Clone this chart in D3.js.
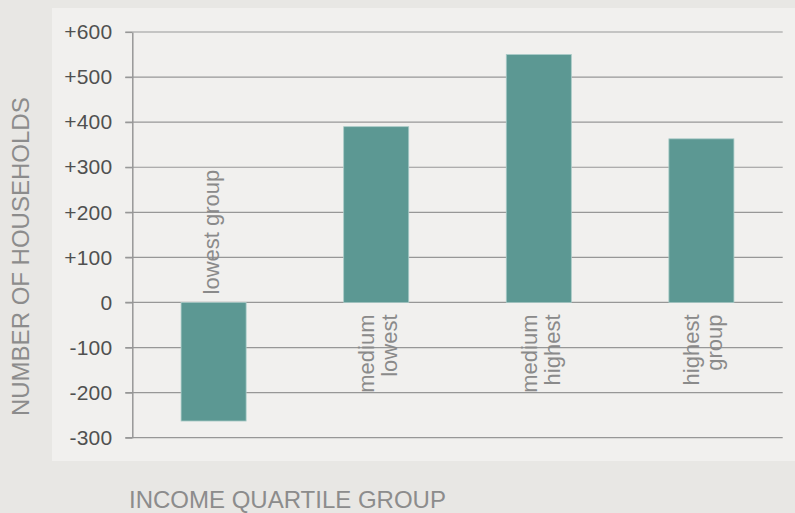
<!DOCTYPE html>
<html>
<head>
<meta charset="utf-8">
<script src="https://cdn.jsdelivr.net/npm/d3@7"></script>
<style>
  html, body { margin: 0; padding: 0; background: #e8e7e4; }
  svg { display: block; }
  text { font-family: "Liberation Sans", Arial, Helvetica, sans-serif; }
</style>
</head>
<body>
<svg id="chart" width="795" height="513"></svg>
<script>
const categories = ["lowest group", "medium lowest", "medium highest", "highest group"];
const categoryLines = [["lowest group"], ["medium", "lowest"], ["medium", "highest"], ["highest", "group"]];
const values = [-263, 390, 550, 363];
const tickValues = [-300, -200, -100, 0, 100, 200, 300, 400, 500, 600];
const yTitle = "NUMBER OF HOUSEHOLDS";
const xTitle = "INCOME QUARTILE GROUP";

const W = 795, H = 513;
const svg = d3.select("#chart");

svg.append("rect").attr("x", 0).attr("y", 0).attr("width", W).attr("height", H).attr("fill", "#e8e7e4");
svg.append("rect").attr("x", 52).attr("y", 8).attr("width", W - 52).attr("height", 453).attr("fill", "#f1f0ee");

const x = d3.scaleBand().domain(categories).range([132.3, 782.7]).paddingInner(0.6).paddingOuter(0.3);
const y = d3.scaleLinear().domain([-300, 600]).range([437.7, 32]);

const gridColor = "#979797";

// gridlines
svg.append("g").selectAll("line").data(tickValues).join("line")
  .attr("x1", x.range()[0] - 7).attr("x2", x.range()[1])
  .attr("y1", d => y(d)).attr("y2", d => y(d))
  .attr("stroke", gridColor).attr("stroke-width", 1.2);

// bars
svg.append("g").selectAll("rect").data(values).join("rect")
  .attr("x", (d, i) => x(categories[i]))
  .attr("width", x.bandwidth())
  .attr("y", d => y(Math.max(0, d)))
  .attr("height", d => Math.abs(y(d) - y(0)))
  .attr("fill", "#5c9893")
  .attr("stroke", "#a9cbc7").attr("stroke-width", 0.8);

// y axis
const yAxis = d3.axisLeft(y).tickValues(tickValues)
  .tickFormat(d => d > 0 ? "+" + d : String(d).replace("\u2212", "-"))
  .tickSizeInner(7).tickSizeOuter(0).tickPadding(13);
const gy = svg.append("g").attr("transform", `translate(${x.range()[0]},0)`).call(yAxis);
gy.select(".domain").attr("stroke", gridColor).attr("stroke-width", 1.5);
gy.selectAll(".tick line").attr("stroke", gridColor).attr("stroke-width", 1.2);
gy.selectAll(".tick text").attr("fill", "#505050").attr("font-size", 21)
  .attr("font-family", "Liberation Sans, Arial, sans-serif").attr("letter-spacing", "0.2px");

// bar labels (rotated)
const labelColor = "#8a8a8a";
const lg = svg.append("g");
categories.forEach((c, i) => {
  const cx = x(c) + x.bandwidth() / 2;
  const v = values[i];
  const lines = categoryLines[i];
  const t = lg.append("text")
    .attr("font-size", 22)
    .attr("fill", labelColor);
  if (v < 0) {
    // label above zero
    t.attr("text-anchor", "start")
      .attr("transform", `translate(${cx + 5},${y(0) - 8}) rotate(-90)`)
      .text(lines[0]);
  } else {
    t.attr("text-anchor", "end")
      .attr("transform", `translate(${cx},${y(0) + 12}) rotate(-90)`);
    lines.forEach((ln, k) => {
      t.append("tspan").attr("x", 0).attr("y", lines.length === 1 ? 5 : (k === 0 ? -2 : 21)).text(ln);
    });
  }
});

// axis titles
svg.append("text")
  .attr("transform", `translate(28.5,${256.7}) rotate(-90)`)
  .attr("text-anchor", "middle")
  .attr("font-size", 24).attr("fill", "#8c8c8c")
  .text(yTitle);

svg.append("text")
  .attr("x", 129).attr("y", 508)
  .attr("font-size", 24).attr("fill", "#8c8c8c")
  .text(xTitle);
</script>
</body>
</html>
